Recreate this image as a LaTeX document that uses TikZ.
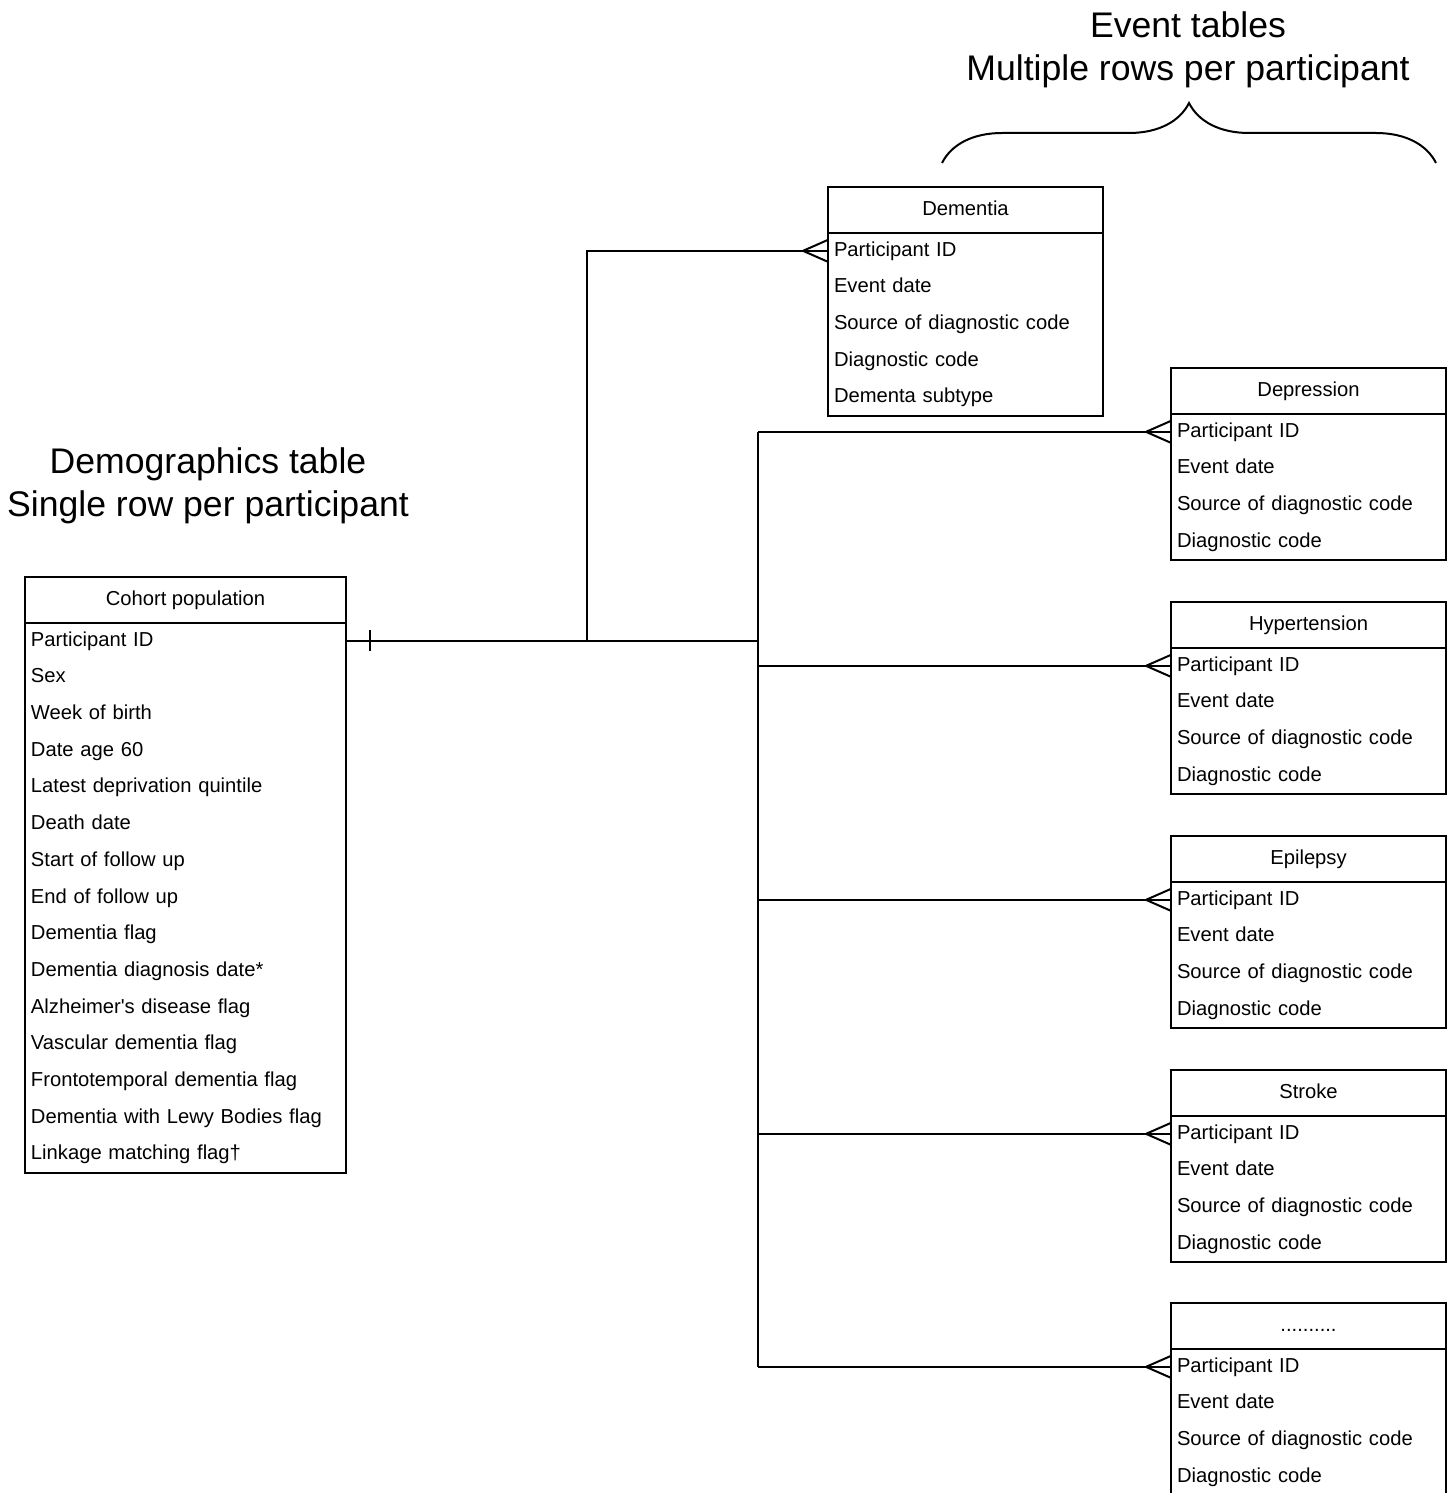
\documentclass[tikz,border=0pt]{standalone}
\usepackage{fontspec}
\setmainfont{Liberation Sans}
\usetikzlibrary{positioning,decorations.pathreplacing}

\begin{document}
\begin{tikzpicture}[x=0.5pt, y=-0.5pt, line width=1pt,
    font=\fontsize{10.1}{12}\selectfont,
    header/.style={draw, minimum height=22.75pt, inner xsep=3pt, inner ysep=0pt,
        outer sep=0pt, text height=7.4pt, text depth=2.1pt},
    row/.style={minimum height=18.35pt, inner xsep=3pt, inner ysep=0pt,
        outer sep=0pt, align=left, text height=7.4pt, text depth=2.1pt},
    title/.style={align=center, font=\fontsize{17.8}{21.5}\selectfont}]
    % Fix the page size
    \useasboundingbox (0,0) rectangle (1454,1493);

    % One table: name, top left corner, width, title, rows, number of rows
    \def\ertable#1#2#3#4#5#6{
        \pgfmathsetlengthmacro{\tw}{#3-6pt}
        \node[header, anchor=north west, minimum width=#3] (#1-0) at #2 {#4};
        \foreach \r [count=\i] in {#5} {
            \pgfmathtruncatemacro{\prev}{\i-1}
            \node[row, text width=\tw, below=0pt of #1-\prev] (#1-\i) {\r};
        }
        \draw (#1-0.south west) rectangle (#1-#6.south east);
    }
    % Crow's foot where a link meets a table row
    \def\crowfoot#1{
        \draw (#1.west) ++(-12.5pt,0pt) -- ++(12.5pt,5.5pt);
        \draw (#1.west) ++(-12.5pt,0pt) -- ++(12.5pt,-5.5pt);
    }

    % Titles
    \node[title] (demtitle) at (208,486) {Demographics table\\Single row per participant};
    \node[title] (evtitle) at (1188,50) {Event tables\\Multiple rows per participant};

    % Brace over the event tables
    \coordinate (braceL) at (942,163);
    \coordinate (braceR) at (1436,163);
    \draw[decorate, decoration={brace, amplitude=30pt}] (braceL) -- (braceR);

    % Demographics table
    \ertable{cohort}{(25,577)}{160.5pt}{Cohort population}{Participant ID, Sex,
        Week of birth, Date age 60, Latest deprivation quintile, Death date,
        Start of follow up, End of follow up, Dementia flag,
        Dementia diagnosis date*, Alzheimer\textquotesingle s disease flag,
        Vascular dementia flag, Frontotemporal dementia flag,
        Dementia with Lewy Bodies flag, Linkage matching flag†}{15}

    % Event tables
    \ertable{dementia}{(828,187)}{137.5pt}{Dementia}{Participant ID, Event date,
        Source of diagnostic code, Diagnostic code, Dementa subtype}{5}
    \foreach \n/\t/\y in {depression/Depression/368, hypertension/Hypertension/602,
        epilepsy/Epilepsy/836, stroke/Stroke/1070, more/{..........}/1303}
        \ertable{\n}{(1171,\y)}{137.5pt}{\t}{Participant ID, Event date,
            Source of diagnostic code, Diagnostic code}{4};

    % Links from participant ID
    \path (cohort-1.east) ++(120.5pt,0pt) coordinate (split);
    \path (cohort-1.east) ++(206pt,0pt) coordinate (trunk);
    \draw (cohort-1.east) -- (trunk);
    \draw (cohort-1.east) ++(12pt,5.25pt) -- ++(0pt,-10.5pt);
    \draw (split) |- (dementia-1.west);
    \crowfoot{dementia-1}
    \draw (trunk |- depression-1.west) -- (trunk |- more-1.west);
    \foreach \n in {depression, hypertension, epilepsy, stroke, more} {
        \draw (trunk |- \n-1.west) -- (\n-1.west);
        \crowfoot{\n-1}
    }
\end{tikzpicture}
\end{document}
